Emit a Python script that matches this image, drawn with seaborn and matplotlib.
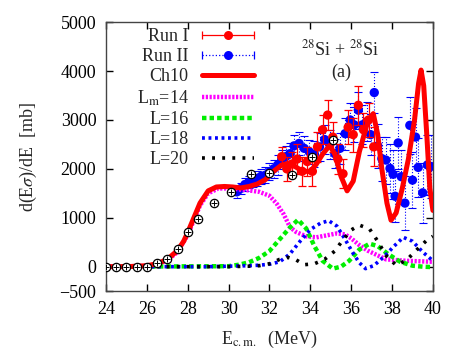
import numpy as np
import matplotlib
matplotlib.use("Agg")
import matplotlib.pyplot as plt
import seaborn as sns
from matplotlib.lines import Line2D
from matplotlib.legend_handler import HandlerBase

# ---- data ----
# older data (open circles, no legend entry)
oc_e = [24, 24.5, 25, 25.5, 26, 26.5, 27, 27.5, 28, 28.5, 29.3, 30.1, 31.1, 32.0, 33.1, 34.1, 35.1]
oc_v = [0, 0, 0, 0, 0, 80, 150, 360, 710, 970, 1310, 1520, 1890, 1920, 1870, 2250, 2590]

run1_e = [32.6, 32.85, 33.1, 33.35, 33.6, 33.85, 34.1, 34.35, 34.6, 34.85,
          35.1, 35.35, 35.6, 35.85, 36.1, 36.35, 36.6, 36.85, 37.1]
run1_v = [2250, 2000, 2100, 2200, 1950, 2150, 1950, 2450, 2800, 3100,
          2650, 2200, 1900, 2850, 2700, 3300, 2800, 3000, 2450]
run1_err = [200, 250, 250, 300, 300, 300, 300, 300, 300, 300,
            300, 300, 300, 350, 350, 400, 350, 350, 400]

run2_e = [30.4, 30.6, 30.8, 31.0, 31.2, 31.4, 31.6, 31.8, 32.0, 32.2,
          32.4, 32.6, 32.8, 33.0, 33.2, 33.45, 33.7, 33.95, 34.2, 34.45,
          34.7, 34.95, 35.2, 35.45, 35.7, 35.95, 36.15, 36.35, 36.55, 36.75,
          36.95, 37.13, 37.3, 37.5, 37.7, 37.9, 38.05, 38.15, 38.3, 38.45,
          38.63, 38.87, 39.0, 39.15, 39.28, 39.5, 39.73, 39.9]
run2_v = [1530, 1600, 1680, 1730, 1760, 1800, 1850, 1870, 1940, 2000,
          2080, 2190, 2250, 2310, 2470, 2520, 2420, 2350, 2300, 2450,
          2600, 2500, 2310, 2420, 2720, 3000, 2900, 3200, 2900, 2960,
          2700, 3560, 2470, 2210, 2180, 2010, 1890, 1440, 2530, 1840,
          1300, 2890, 1770, 2650, 2030, 1510, 2080, 2050]
run2_err = [120, 120, 130, 130, 140, 150, 150, 160, 170, 180,
            200, 200, 210, 220, 230, 240, 250, 250, 260, 280,
            300, 300, 300, 320, 330, 350, 360, 380, 400, 400,
            420, 420, 450, 450, 480, 500, 500, 520, 540, 550,
            560, 580, 580, 600, 600, 620, 620, 640]

ch10_e = [24, 25, 26, 26.5, 27, 27.5, 27.8, 28, 28.3, 28.6, 29, 29.4, 29.8, 30.2, 30.6,
          31, 31.4, 31.8, 32.2, 32.6, 32.9, 33.2, 33.6, 34.0, 34.3, 34.6, 34.95, 35.2,
          35.5, 35.8, 36.1, 36.4, 36.8, 37.08, 37.3, 37.5, 37.75, 37.95, 38.2, 38.5,
          38.8, 39.1, 39.3, 39.42, 39.55, 39.7, 39.85, 40]
ch10_v = [0, 0, 20, 60, 150, 330, 520, 700, 1000, 1300, 1550, 1630, 1640, 1630, 1610,
          1640, 1690, 1780, 1950, 2080, 2110, 2060, 1960, 1940, 2100, 2300, 2480, 2300,
          1850, 1550, 1750, 2350, 2950, 3130, 2700, 2000, 1300, 950, 1100, 1600,
          2200, 3000, 3750, 4020, 3700, 2700, 1600, 1150]

lm14_e = [24, 26, 26.5, 27, 27.5, 28, 28.3, 28.6, 29, 29.5, 30, 30.5, 31, 31.5, 32,
          32.35, 32.7, 33, 33.3, 33.8, 34.3, 34.8, 35.3, 35.7, 36, 36.4, 36.8, 37.1,
          37.7, 38.7, 40]
lm14_v = [0, 15, 50, 130, 300, 650, 950, 1250, 1500, 1600, 1600, 1580, 1560, 1530, 1450,
          1290, 1070, 810, 710, 620, 600, 640, 680, 660, 580, 440, 330, 270,
          150, 120, 100]

l16_e = [24, 30, 30.5, 31, 31.5, 32, 32.5, 33, 33.4, 33.8, 34.2, 34.6, 35.1, 35.5,
         35.9, 36.4, 36.9, 37.3, 37.8, 38.4, 39, 39.5, 40]
l16_v = [0, 10, 40, 90, 180, 320, 560, 800, 960, 780, 420, 120, -40, 0,
         120, 350, 470, 420, 260, 100, 20, 0, -10]

l18_e = [24, 29, 30, 30.5, 31, 31.5, 32, 32.5, 33, 33.5, 34, 34.5, 34.9, 35.3, 35.7,
         36.1, 36.4, 36.7, 37.1, 37.6, 38.1, 38.55, 39, 39.5, 40]
l18_v = [0, 0, 10, 15, 20, 30, 50, 100, 260, 520, 760, 890, 940, 830, 560,
         270, 80, -40, 20, 200, 420, 600, 520, 300, 120]

l20_e = [24, 30, 31, 31.5, 32, 32.5, 32.9, 33.3, 33.7, 34.2, 34.7, 35.2, 35.6, 36.0,
         36.4, 36.9, 37.3, 37.7, 38.2, 38.7, 39.2, 39.7, 40]
l20_v = [0, 0, 10, 20, 60, 150, 190, 140, 40, 60, 150, 320, 550, 750,
         850, 770, 520, 230, 30, 130, 340, 540, 620]

x_ticks = [24, 26, 28, 30, 32, 34, 36, 38, 40]
y_ticks = [-500, 0, 1000, 2000, 3000, 4000, 5000]

sns.set_style("ticks")
plt.rcParams["font.family"] = ["Liberation Serif", "DejaVu Serif"]
plt.rcParams["mathtext.fontset"] = "stix"
plt.rcParams["font.size"] = 13

fig = plt.figure(figsize=(4.63, 3.63), dpi=100)
ax = fig.add_axes([0.229, 0.198, 0.706, 0.741])

# Run II (blue, dotted error bars)
eb2 = ax.errorbar(run2_e, run2_v, yerr=run2_err, fmt="none", ecolor="blue",
                  elinewidth=0.8, capsize=3, capthick=0.8, zorder=2)
for c in eb2[2]:
    c.set_linestyle(":")
sns.scatterplot(x=run2_e, y=run2_v, color="blue", s=45, edgecolor="none", ax=ax, zorder=3)

# Run I (red, solid error bars)
ax.errorbar(run1_e, run1_v, yerr=run1_err, fmt="none", ecolor="red",
            elinewidth=0.9, capsize=3, capthick=0.9, zorder=4)
sns.scatterplot(x=run1_e, y=run1_v, color="red", s=45, edgecolor="none", ax=ax, zorder=4)

# calculations
sns.lineplot(x=lm14_e, y=lm14_v, color="magenta", lw=3.2, linestyle=(0, (0.5, 0.35)),
             ax=ax, zorder=5)
sns.lineplot(x=l16_e, y=l16_v, color="#00ee00", lw=3.2, linestyle=(0, (1.0, 0.7)),
             ax=ax, zorder=5)
sns.lineplot(x=l18_e, y=l18_v, color="blue", lw=2.6, linestyle=(0, (0.8, 1.0)),
             ax=ax, zorder=5)
sns.lineplot(x=l20_e, y=l20_v, color="black", lw=2.6, linestyle=(0, (0.8, 2.0)),
             ax=ax, zorder=5)
sns.lineplot(x=ch10_e, y=ch10_v, color="red", lw=3.6, ax=ax, zorder=6)

# open circles
ax.errorbar(oc_e, oc_v, yerr=60, fmt="o", mfc="white", mec="black", ecolor="black",
            ms=6, mew=0.9, elinewidth=0.8, capsize=1.5, zorder=7)
ax.plot(oc_e, oc_v, "+", color="black", ms=4, mew=0.7, zorder=8)

ax.set_xlim(24, 40)
ax.set_ylim(-500, 5000)
ax.set_xticks(x_ticks)
ax.set_yticks(y_ticks)
ax.tick_params(direction="in", length=5, width=1, top=True, right=True,
               labelsize=13, pad=7, colors="black")
for s in ax.spines.values():
    s.set_linewidth(1)
    s.set_color("#444444")

ax.set_xlabel(r"E$_{\mathrm{c.m.}}$  (MeV)", fontsize=13)
ax.xaxis.set_label_coords(0.5, -0.14)
ax.set_ylabel(r"d(E$\sigma$)/dE  [mb]", fontsize=13)
ax.yaxis.set_label_coords(-0.205, 0.5)

ax.text(0.716, 0.90, r"$^{28}$Si + $^{28}$Si", transform=ax.transAxes,
        ha="center", va="center", fontsize=13)
ax.text(0.72, 0.815, "(a)", transform=ax.transAxes, ha="center", va="center",
        fontsize=13)


class ErrHandler(HandlerBase):
    def __init__(self, color, ls):
        super().__init__()
        self.color = color
        self.ls = ls

    def create_artists(self, legend, orig, xd, yd, w, h, fs, trans):
        y = h / 2 - yd
        x0, x1 = -xd, w - xd
        line = Line2D([x0, x1], [y, y], color=self.color, ls=self.ls, lw=0.9)
        caps = Line2D([x0, x1], [y, y], ls="none", marker="|", ms=6,
                      mew=0.9, color=self.color)
        dot = Line2D([(x0 + x1) / 2], [y], ls="none", marker="o", ms=6.5,
                     color=self.color, mec="none")
        for a in (line, caps, dot):
            a.set_transform(trans)
        return [line, caps, dot]


h_run1 = Line2D([], [], color="red")
h_run2 = Line2D([], [], color="blue")
handles = [
    h_run1,
    h_run2,
    Line2D([], [], color="red", lw=3.6),
    Line2D([], [], color="magenta", lw=3.2, ls=(0, (0.5, 0.35))),
    Line2D([], [], color="#00ee00", lw=3.2, ls=(0, (1.0, 0.7))),
    Line2D([], [], color="blue", lw=2.6, ls=(0, (0.8, 1.0))),
    Line2D([], [], color="black", lw=2.6, ls=(0, (0.8, 2.0))),
]
labels = ["Run I", "Run II", "Ch10", r"L$_\mathrm{m}$=14", "L=16", "L=18", "L=20"]
fig.legend(handles, labels, loc="upper right", bbox_to_anchor=(0.549, 0.922),
           frameon=False, markerfirst=False, handlelength=2.9, handletextpad=0.75,
           labelspacing=0.17, borderpad=0, borderaxespad=0, fontsize=13,
           handler_map={h_run1: ErrHandler("red", "-"), h_run2: ErrHandler("blue", ":")})

fig.savefig("out.png", dpi=100)
